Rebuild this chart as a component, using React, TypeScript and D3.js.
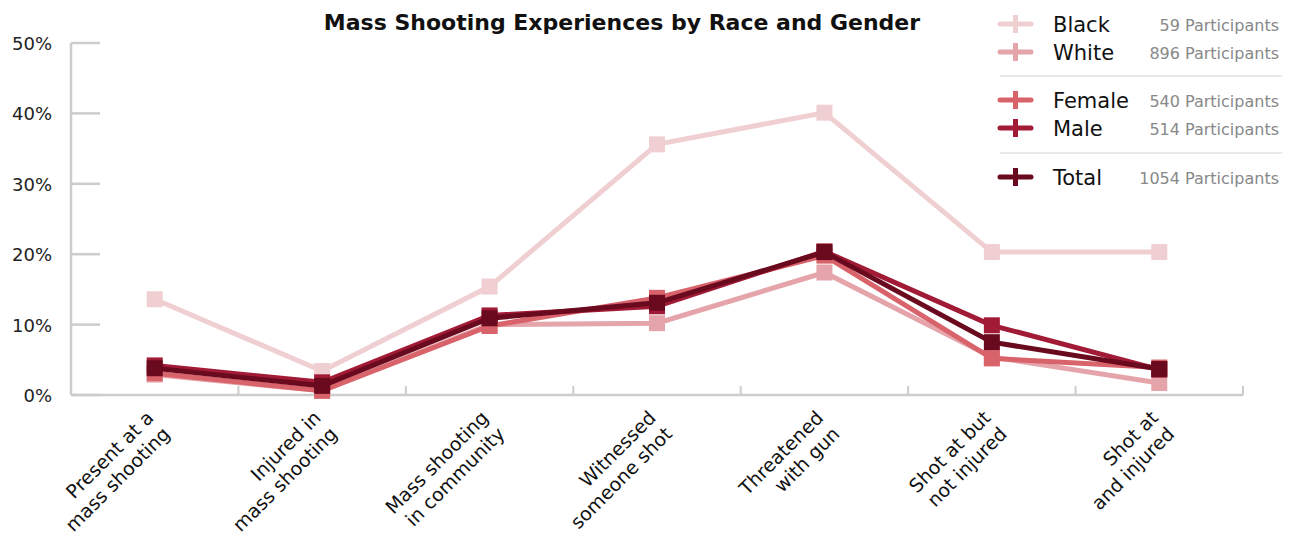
import React from "react";
import * as d3 from "d3";

const categories: string[][] = [
  ["Present at a", "mass shooting"],
  ["Injured in", "mass shooting"],
  ["Mass shooting", "in community"],
  ["Witnessed", "someone shot"],
  ["Threatened", "with gun"],
  ["Shot at but", "not injured"],
  ["Shot at", "and injured"],
];

const blackValues = [13.6, 3.4, 15.4, 35.6, 40.1, 20.3, 20.3];
const whiteValues = [2.9, 0.6, 10.0, 10.2, 17.4, 5.4, 1.7];
const femaleValues = [3.1, 0.6, 9.8, 13.8, 19.8, 5.2, 3.9];
const maleValues = [4.2, 1.8, 11.3, 12.6, 20.4, 9.9, 3.6];
const totalValues = [3.8, 1.3, 10.9, 13.1, 20.3, 7.5, 3.7];

const seriesNames = ["Black", "White", "Female", "Male", "Total"];
const participants = [59, 896, 540, 514, 1054];
const seriesColors = ["#f0cfd3", "#e5a4aa", "#d9636b", "#a21b36", "#6a0a1e"];

const yTicks = [0, 10, 20, 30, 40, 50];
const title = "Mass Shooting Experiences by Race and Gender";

const W = 1293;
const H = 541;
const FONT = "'DejaVu Sans', sans-serif";

export default function App() {
  const left = 71;
  const right = 1243;
  const top = 43;
  const bottom = 395;

  const keys = categories.map((c) => c.join(" "));
  const x = d3.scaleBand<string>().domain(keys).range([left, right]);
  const bw = x.bandwidth();
  const cx = (i: number) => (x(keys[i]) as number) + bw / 2;
  const y = d3.scaleLinear().domain([0, 50]).range([bottom, top]);

  const allSeries = [blackValues, whiteValues, femaleValues, maleValues, totalValues];
  const line = d3
    .line<number>()
    .x((_, i) => cx(i))
    .y((d) => y(d));

  const axisColor = "#cccccc";
  const sq = 16;

  const legendRows = [24, 52, 100, 128, 177];
  const legendSeps = [76, 153];

  return (
    <svg
      width={W}
      height={H}
      style={{ position: "absolute", left: 0, top: 0, background: "#fff" }}
      fontFamily={FONT}
    >
      <text x={622} y={30} textAnchor="middle" fontSize={22} fontWeight="bold" fill="#111">
        {title}
      </text>

      {/* Y axis */}
      <line x1={left} x2={left} y1={top} y2={bottom} stroke={axisColor} strokeWidth={2.5} />
      {yTicks.map((t) => (
        <g key={t}>
          <line x1={left} x2={left + 29} y1={y(t)} y2={y(t)} stroke={axisColor} strokeWidth={2.5} />
          <text x={52} y={y(t) + 7} textAnchor="end" fontSize={18} fill="#222">
            {t}%
          </text>
        </g>
      ))}

      {/* X axis */}
      <line x1={left} x2={right} y1={bottom} y2={bottom} stroke={axisColor} strokeWidth={2.5} />
      {keys.map((k) => (
        <line
          key={k}
          x1={(x(k) as number) + bw}
          x2={(x(k) as number) + bw}
          y1={bottom - 9}
          y2={bottom}
          stroke={axisColor}
          strokeWidth={2}
        />
      ))}
      {categories.map((c, i) => (
        <g key={i} transform={`translate(${cx(i)},419) rotate(-45)`}>
          {c.map((ln, j) => (
            <text key={j} x={0} y={j * 23} textAnchor="end" fontSize={19} fill="#111">
              {ln}
            </text>
          ))}
        </g>
      ))}

      {/* Series */}
      {allSeries.map((vals, s) => (
        <g key={s}>
          <path d={line(vals) as string} fill="none" stroke={seriesColors[s]} strokeWidth={5} />
          {vals.map((v, i) => (
            <rect
              key={i}
              x={cx(i) - sq / 2}
              y={y(v) - sq / 2}
              width={sq}
              height={sq}
              fill={seriesColors[s]}
            />
          ))}
        </g>
      ))}

      {/* Legend */}
      {legendSeps.map((sy) => (
        <line key={sy} x1={1000} x2={1282} y1={sy} y2={sy} stroke="#e2e2e2" strokeWidth={1.5} />
      ))}
      {seriesNames.map((name, s) => {
        const ly = legendRows[s];
        return (
          <g key={name}>
            <line
              x1={1000}
              x2={1031}
              y1={ly}
              y2={ly}
              stroke={seriesColors[s]}
              strokeWidth={5}
              strokeLinecap="round"
            />
            <line x1={1015.5} x2={1015.5} y1={ly - 9} y2={ly + 9} stroke={seriesColors[s]} strokeWidth={5} />
            <text x={1053} y={ly + 7.5} fontSize={21} fill="#111">
              {name}
            </text>
            <text x={1279} y={ly + 6.5} textAnchor="end" fontSize={16} fill="#888">
              {participants[s]} Participants
            </text>
          </g>
        );
      })}
    </svg>
  );
}
